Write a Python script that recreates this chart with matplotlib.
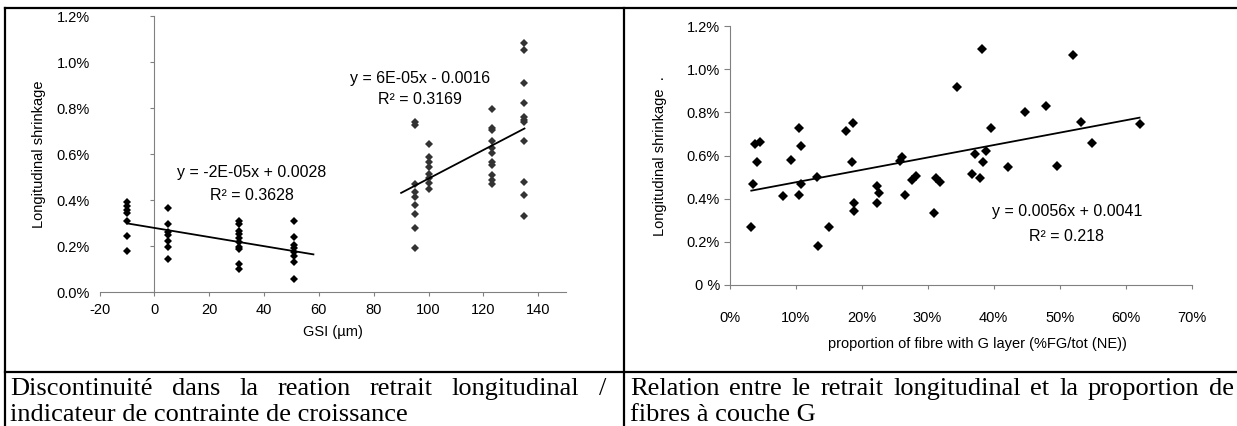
import numpy as np
import matplotlib
matplotlib.use('Agg')
import matplotlib.pyplot as plt
from matplotlib.lines import Line2D
from matplotlib.ticker import FuncFormatter

plt.rcParams['font.family'] = ['Liberation Sans', 'DejaVu Sans']
plt.rcParams['axes.unicode_minus'] = False

# --- left chart: shrinkage vs GSI (two groups) ---
gsi_low = [-10] * 7 + [5] * 7 + [31] * 10 + [51] * 8
shr_low = [0.392, 0.375, 0.356, 0.343, 0.310, 0.245, 0.180,
           0.365, 0.296, 0.263, 0.248, 0.221, 0.198, 0.144,
           0.307, 0.296, 0.267, 0.252, 0.234, 0.216, 0.195, 0.188, 0.123, 0.101,
           0.307, 0.238, 0.205, 0.190, 0.173, 0.156, 0.130, 0.055]
gsi_high = [95] * 9 + [100] * 8 + [123] * 11 + [135] * 11
shr_high = [0.740, 0.726, 0.470, 0.437, 0.415, 0.379, 0.340, 0.278, 0.192,
            0.646, 0.586, 0.567, 0.545, 0.512, 0.495, 0.473, 0.447,
            0.795, 0.715, 0.704, 0.656, 0.625, 0.603, 0.567, 0.552, 0.509, 0.488, 0.470,
            1.083, 1.054, 0.910, 0.824, 0.762, 0.750, 0.740, 0.658, 0.480, 0.423, 0.329]
trend_low_range = [-10, 58]
trend_high_range = [90, 135]
eq_low = ['y = -2E-05x + 0.0028', 'R² = 0.3628']
eq_high = ['y = 6E-05x - 0.0016', 'R² = 0.3169']

# --- right chart: shrinkage vs proportion of G-layer fibres ---
fg = [3.3, 3.5, 4.1, 3.9, 4.6, 8.1, 9.3, 10.6, 10.8, 10.8, 10.6, 13.2, 13.4, 15.0,
      17.7, 18.7, 18.6, 18.9, 18.9, 22.3, 22.6, 22.4, 25.8, 26.2, 26.6, 27.7, 28.3,
      30.9, 31.2, 31.9, 34.5, 36.7, 37.2, 37.9, 38.3, 38.4, 38.8, 39.6, 42.2, 44.8,
      47.9, 49.6, 52.0, 53.2, 54.9, 62.1]
shr_fg = [0.269, 0.469, 0.572, 0.655, 0.661, 0.413, 0.580, 0.728, 0.646, 0.469, 0.417,
          0.500, 0.183, 0.269, 0.712, 0.751, 0.572, 0.382, 0.342, 0.458, 0.424, 0.378,
          0.575, 0.595, 0.416, 0.486, 0.507, 0.334, 0.494, 0.479, 0.917, 0.514, 0.608,
          0.494, 1.094, 0.572, 0.622, 0.727, 0.549, 0.800, 0.830, 0.553, 1.065, 0.757,
          0.657, 0.746]
eq_fg = ['y = 0.0056x + 0.0041', 'R² = 0.218']

caption_left = ['Discontinuité dans la reation retrait longitudinal /',
                'indicateur de contrainte de croissance']
caption_right = ['Relation entre le retrait longitudinal et la proportion de',
                 'fibres à couche G']

W, H = 1237, 426
GRAY = '#808080'
FS = 10.5
EQ_FS = 11.5

fig = plt.figure(figsize=(W / 100, H / 100), dpi=100)


def px_box(x0, y_top, x1, y_bot):
    return [x0 / W, 1 - y_bot / H, (x1 - x0) / W, (y_bot - y_top) / H]


def trend(ax, xs, ys, xr):
    k, b = np.polyfit(xs, ys, 1)
    xr = np.array(xr, dtype=float)
    ax.plot(xr, k * xr + b, color='black', lw=1.3, zorder=3)


# left chart
ax1 = fig.add_axes(px_box(99.6, 16.3, 565.6, 292))
ax1.set_xlim(-20, 150)
ax1.set_ylim(0, 1.2)
ax1.plot(gsi_low, shr_low, 'D', color='black', ms=3.9, mew=0)
ax1.plot(gsi_high, shr_high, 'D', color='#333333', ms=3.9, mew=0)
trend(ax1, gsi_low, shr_low, trend_low_range)
trend(ax1, gsi_high, shr_high, trend_high_range)
for s in ('top', 'right', 'left'):
    ax1.spines[s].set_visible(False)
ax1.spines['bottom'].set_color(GRAY)
ax1.set_xticks(range(-20, 141, 20))
ax1.set_yticks(np.arange(0, 1.21, 0.2))
ax1.yaxis.set_major_formatter(FuncFormatter(lambda v, _: f'{v:.1f}%'))
ax1.tick_params(axis='y', length=0, pad=7, labelsize=FS)
ax1.tick_params(axis='x', length=3, color=GRAY, pad=5, labelsize=FS)
sec = ax1.secondary_yaxis(20 / 170)
sec.set_yticks(np.arange(0, 1.21, 0.2))
sec.tick_params(labelleft=False, length=3, color=GRAY)
sec.spines['left'].set_color(GRAY)
ax1.set_xlabel('GSI (µm)', fontsize=FS, labelpad=6)
ax1.set_ylabel('Longitudinal shrinkage', fontsize=FS)
ax1.yaxis.set_label_coords((46 - 99.6) / 466, (292 - 154) / 275.7)
ax1.text(35.4, 0.52, eq_low[0], ha='center', va='center', fontsize=EQ_FS)
ax1.text(35.4, 0.42, eq_low[1], ha='center', va='center', fontsize=EQ_FS)
ax1.text(97, 0.93, eq_high[0], ha='center', va='center', fontsize=EQ_FS)
ax1.text(97, 0.84, eq_high[1], ha='center', va='center', fontsize=EQ_FS)

# right chart
ax2 = fig.add_axes(px_box(729.5, 26, 1191.7, 285))
ax2.set_xlim(0, 70)
ax2.set_ylim(0, 1.2)
ax2.plot(fg, shr_fg, 'D', color='black', ms=4.9, mew=0)
trend(ax2, fg, shr_fg, [min(fg), max(fg)])
for s in ('top', 'right'):
    ax2.spines[s].set_visible(False)
for s in ('left', 'bottom'):
    ax2.spines[s].set_color(GRAY)
ax2.set_xticks(range(0, 71, 10))
ax2.set_yticks(np.arange(0, 1.21, 0.2))
ax2.xaxis.set_major_formatter(FuncFormatter(lambda v, _: f'{v:.0f}%'))
ax2.yaxis.set_major_formatter(FuncFormatter(lambda v, _: '0 %' if abs(v) < 1e-9 else f'{v:.1f}%'))
ax2.tick_params(axis='y', length=4, color=GRAY, pad=3, labelsize=FS)
ax2.tick_params(axis='x', length=3, color=GRAY, pad=16, labelsize=FS)
ax2.set_xlabel('proportion of fibre with G layer (%FG/tot (NE))', fontsize=FS)
ax2.xaxis.set_label_coords((977 - 729.5) / 462.2, -(337 - 285) / 259)
ax2.set_ylabel('Longitudinal shrinkage  .', fontsize=FS)
ax2.yaxis.set_label_coords((667 - 729.5) / 462.2, (285 - 156) / 259)
ax2.text(51.1, 0.34, eq_fg[0], ha='center', va='center', fontsize=EQ_FS)
ax2.text(51.1, 0.224, eq_fg[1], ha='center', va='center', fontsize=EQ_FS)

# table frame
frame = [((5, 1237), (8, 8)), ((5, 1237), (372, 372)),
         ((5, 5), (8, 426)), ((623.5, 623.5), (8, 426))]
for xs, ys in frame:
    fig.add_artist(Line2D([x / W for x in xs], [1 - y / H for y in ys],
                          transform=fig.transFigure, color='black', lw=1.6))

# captions (first line justified)
renderer = fig.canvas.get_renderer()
cap_kw = dict(family=['Liberation Serif', 'DejaVu Serif'], fontsize=19, va='baseline')


def justified(text, x0, x1, y):
    words = text.split()
    arts = [fig.text(0, 1 - y / H, w, **cap_kw) for w in words]
    widths = [a.get_window_extent(renderer).width for a in arts]
    gap = ((x1 - x0) - sum(widths)) / (len(words) - 1)
    x = x0
    for a, w in zip(arts, widths):
        a.set_x(x / W)
        x += w + gap


justified(caption_left[0], 10, 606, 395)
fig.text(10 / W, 1 - 421 / H, caption_left[1], **cap_kw)
justified(caption_right[0], 630, 1234, 395)
fig.text(630 / W, 1 - 421 / H, caption_right[1], **cap_kw)

fig.savefig('out.png', dpi=100)
